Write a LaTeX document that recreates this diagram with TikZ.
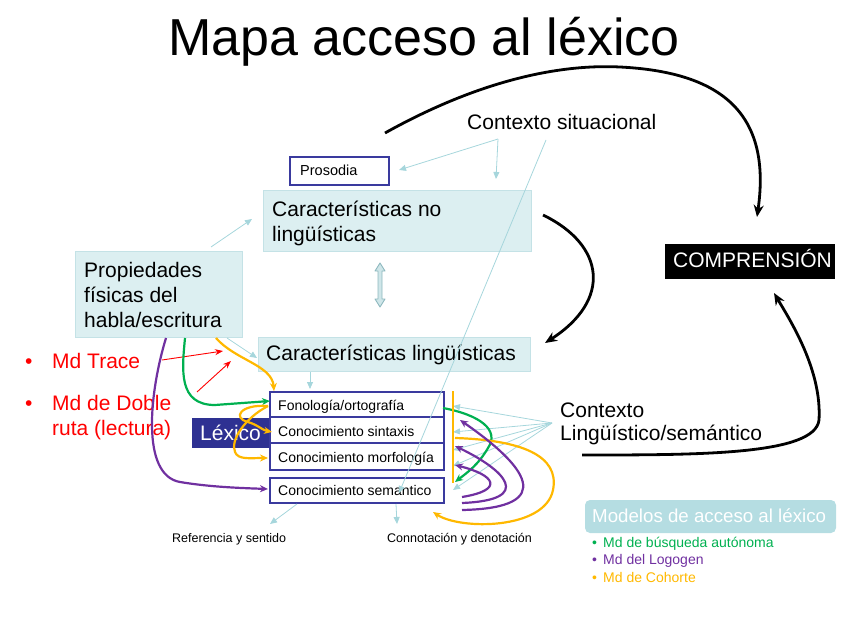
\documentclass[tikz,border=0pt]{standalone}
\usepackage{fontspec}
\setmainfont{Liberation Sans}
\usetikzlibrary{arrows.meta}
\definecolor{boxfill}{HTML}{DCEFF1}
\definecolor{boxline}{HTML}{C4E2E6}
\definecolor{cyanl}{HTML}{A6D6DC}
\definecolor{lexblue}{HTML}{3A3A9E}
\definecolor{lexfill}{HTML}{2E3192}
\definecolor{mgreen}{HTML}{00B050}
\definecolor{mpurple}{HTML}{7030A0}
\definecolor{morange}{HTML}{FFB800}
\definecolor{legfill}{HTML}{B5DDE2}
\definecolor{dblline}{HTML}{8DB8BE}
\definecolor{dblfill}{HTML}{CFE6E9}
\begin{document}
\begin{tikzpicture}[x=1pt,y=-1pt,
  txt/.style={anchor=base west, inner sep=0pt},
  big/.style={font=\fontsize{21}{25}\selectfont},
  small/.style={font=\fontsize{14}{16}\selectfont},
  cbox/.style={draw=boxline, fill=boxfill, line width=0.8pt, inner sep=0pt},
  lexbox/.style={draw=lexblue, fill=white, line width=1.6pt, minimum width=174pt, inner sep=0pt},
  cyanarr/.style={draw=cyanl, line width=0.8pt, -{Triangle[length=7pt,width=6pt]}},
  blackarr/.style={line width=2.8pt, -{Stealth[length=12pt,width=10pt]}},
  colarr/.style={line width=2.2pt, -{Stealth[length=8pt,width=7pt]}},
  legitem/.style={txt, font=\fontsize{14}{16}\selectfont},
]
\useasboundingbox (0,0) rectangle (848,636);

% title
\node[anchor=base, inner sep=0pt, font=\fontsize{52}{60}\selectfont] (title) at (424,56) {Mapa acceso al léxico};

% boxes
\node[cbox, minimum width=268pt, minimum height=61pt] (cnl) at (397,220.5) {};
\node[txt, big] (cnlt1) at (272,217) {Características no};
\node[txt, big] (cnlt2) at (272,242) {lingüísticas};

\node[cbox, minimum width=167pt, minimum height=86pt] (prop) at (158.5,294) {};
\node[txt, big] (propt1) at (84,277) {Propiedades};
\node[txt, big] (propt2) at (84,302) {físicas del};
\node[txt, big] (propt3) at (84,327) {habla/escritura};

\node[cbox, minimum width=272pt, minimum height=34pt] (cl) at (394,354) {};
\node[txt, big] (clt) at (266,360) {Características lingüísticas};

\node[draw=lexblue, line width=1.4pt, fill=white, minimum width=99pt, minimum height=28pt, inner sep=0pt] (pros) at (339.5,171) {};
\node[txt, font=\fontsize{14.5}{16}\selectfont] (prost) at (300,176) {Prosodia};

\node[fill=black, minimum width=170pt, minimum height=35pt, inner sep=0pt] (comp) at (750,261.5) {};
\node[txt, big, text=white] (compt) at (673,268) {COMPRENSIÓN};

% lexicon
\node[fill=lexfill, minimum width=78pt, minimum height=30pt, inner sep=0pt] (lex) at (231,433) {};
\node[txt, big, text=white] (lext) at (200,440) {Léxico};

\node[lexbox, minimum height=25pt] (fon) at (357,404.5) {};
\node[lexbox, minimum height=26pt] (sin) at (357,430) {};
\node[lexbox, minimum height=27pt] (mor) at (357,456.5) {};
\node[lexbox, minimum height=25pt] (sem) at (357,490.5) {};
\node[txt, small] at (278,410) {Fonología/ortografía};
\node[txt, small] at (278,436) {Conocimiento sintaxis};
\node[txt, small] at (278,462) {Conocimiento morfología};
\node[txt, small] at (278,495) {Conocimiento semantico};

% plain texts
\node[txt, big] (cs) at (467,130) {Contexto situacional};
\node[txt, big] (cls1) at (560,417) {Contexto};
\node[txt, big] (cls2) at (560,440) {Lingüístico/semántico};
\node[txt, font=\fontsize{12.5}{14}\selectfont] (ref) at (172,542) {Referencia y sentido};
\node[txt, font=\fontsize{12.5}{14}\selectfont] (con) at (387,542) {Connotación y denotación};

% red bullets
\node[txt, big, text=red] (b1) at (25,368) {•};
\node[txt, big, text=red] (trace) at (52,368) {Md Trace};
\node[txt, big, text=red] (b2) at (25,410) {•};
\node[txt, big, text=red] (doble1) at (52,410) {Md de Doble};
\node[txt, big, text=red] (doble2) at (52,435) {ruta (lectura)};

% legend
\node[fill=legfill, rounded corners=5pt, minimum width=251pt, minimum height=33pt, inner sep=0pt] (leg) at (710.5,516.5) {};
\node[txt, text=white, font=\fontsize{18.7}{22}\selectfont] (legt) at (592,522) {Modelos de acceso al léxico};
\node[legitem, text=mgreen] (l1b) at (592,547) {•};
\node[legitem, text=mgreen] (l1) at (603,547) {Md de búsqueda autónoma};
\node[legitem, text=mpurple] (l2b) at (592,564) {•};
\node[legitem, text=mpurple] (l2) at (603,564) {Md del Logogen};
\node[legitem, text=morange] (l3b) at (592,582) {•};
\node[legitem, text=morange] (l3) at (603,582) {Md de Cohorte};

% coordinates
\coordinate (csA) at (498,139);
\coordinate (csC) at (546,140);
\coordinate (prosA) at (399,170);
\coordinate (csB) at (496,179);
\coordinate (semA) at (399,493);
\coordinate (pA) at (211,247);
\coordinate (cnlA) at (252,219);
\coordinate (pB) at (227,338);
\coordinate (clA) at (257,358);
\coordinate (clB) at (310,372);
\coordinate (fonA) at (310,389);
\coordinate (semB) at (297,504);
\coordinate (refA) at (270,524);
\coordinate (semC) at (396,504);
\coordinate (conA) at (397,524);
\coordinate (fan) at (552,423);

% cyan connectors
\draw[cyanarr] (csA) -- (prosA);
\draw[cyanarr] (csA) -- (csB);
\draw[cyanarr] (csC) -- (semA);
\draw[cyanarr] (pA) -- (cnlA);
\draw[cyanarr] (pB) -- (clA);
\draw[cyanarr] (clB) -- (fonA);
\draw[cyanarr] (semB) -- (refA);
\draw[cyanarr] (semC) -- (conA);
\foreach \yy in {406,432,450,466,490}{
  \draw[cyanarr] (fan) -- (453,\yy);
}
% hollow double arrow between the two characteristic boxes
\draw[draw=dblline, fill=dblfill, line width=0.9pt, line join=round]
  (380,263) -- (385,271) -- (382,271) -- (382,299) -- (385,299) -- (380,307)
  -- (375,299) -- (378,299) -- (378,271) -- (375,271) -- cycle;

% black arrows
\coordinate (k1s) at (385,133);
\coordinate (k1e) at (757,217);
\draw[blackarr] (k1s) .. controls (480,80) and (560,64) .. (620,67) .. controls (720,72) and (772,112) .. (k1e);
\coordinate (k2s) at (543,215);
\coordinate (k2e) at (545,343);
\draw[blackarr] (k2s) .. controls (605,245) and (612,300) .. (k2e);
\coordinate (k3s) at (582,455);
\coordinate (k3e) at (774,293);
\draw[blackarr] (k3s) .. controls (700,455) and (815,455) .. (819,420) .. controls (822,370) and (790,320) .. (k3e);

% red arrows
\coordinate (r1s) at (162,360);
\coordinate (r1e) at (223,351);
\coordinate (r2s) at (197,392);
\coordinate (r2e) at (231,361);
\draw[red, line width=0.9pt, -{Stealth[length=8pt,width=6pt]}] (r1s) -- (r1e);
\draw[red, line width=0.9pt, -{Stealth[length=8pt,width=6pt]}] (r2s) -- (r2e);

% green
\coordinate (g1s) at (185,338);
\coordinate (g1e) at (270,401);
\draw[colarr, mgreen] (g1s) .. controls (182,370) and (178,405) .. (215,405) -- (g1e);
\coordinate (g2s) at (443,408);
\coordinate (g2e) at (455,482);
\draw[colarr, mgreen] (g2s) .. controls (480,415) and (500,430) .. (488,448) .. controls (478,465) and (468,472) .. (g2e);

% orange
\coordinate (o1s) at (216,338);
\coordinate (o1e) at (274,391);
\draw[colarr, morange] (o1s) .. controls (235,360) and (272,365) .. (o1e);
\coordinate (o2s) at (268,406);
\coordinate (o2e) at (272,432);
\draw[colarr, morange] (o2s) .. controls (240,404) and (232,418) .. (248,422) .. controls (258,425) and (262,430) .. (o2e);
\coordinate (o3e) at (268,458);
\draw[colarr, morange] (o2s) .. controls (245,418) and (230,440) .. (235,452) .. controls (238,460) and (250,458) .. (o3e);
\coordinate (ovt) at (453,391);
\coordinate (ovb) at (453,483);
\draw[morange, line width=2.4pt] (ovt) -- (ovb);
\coordinate (o4s) at (455,438);
\coordinate (o4e) at (433,512);
\draw[colarr, morange] (o4s) .. controls (520,440) and (560,455) .. (553,490) .. controls (545,530) and (460,530) .. (o4e);

% purple
\coordinate (p1s) at (166,338);
\coordinate (p1e) at (268,489);
\draw[colarr, mpurple] (p1s) .. controls (150,390) and (140,475) .. (180,482) .. controls (210,487) and (240,488) .. (p1e);
\coordinate (q1s) at (462,497);
\coordinate (q1e) at (455,465);
\draw[colarr, mpurple] (q1s) .. controls (505,490) and (495,475) .. (q1e);
\coordinate (q2s) at (462,503);
\coordinate (q2e) at (455,446);
\draw[colarr, mpurple] (q2s) .. controls (535,500) and (505,470) .. (q2e);
\coordinate (q3s) at (462,510);
\coordinate (q3e) at (460,420);
\draw[colarr, mpurple] (q3s) .. controls (560,508) and (525,465) .. (q3e);
\end{tikzpicture}
\end{document}
